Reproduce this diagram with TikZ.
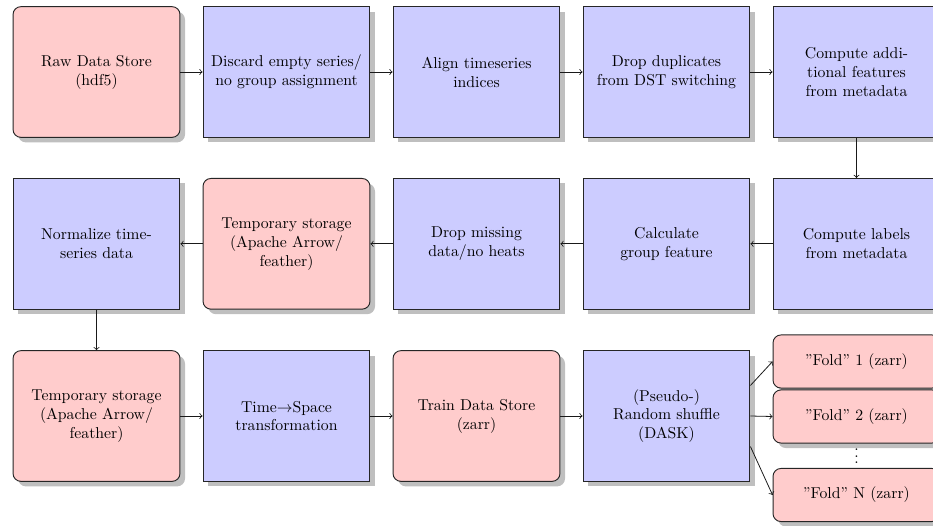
\documentclass[tikz,border=0pt]{standalone}
\usetikzlibrary{shadows}
\tikzset{
  base/.style={draw=black!85, line width=0.6pt, minimum width=106pt,
    minimum height=83pt, inner sep=0pt, align=center,
    drop shadow={shadow xshift=3.2pt, shadow yshift=-3.2pt, fill=black, opacity=0.25}},
  proc/.style={base, fill=blue!20},
  store/.style={base, fill=red!20, rounded corners=5pt},
  fold/.style={store, minimum height=33.7pt},
  conn/.style={->, line width=0.5pt, draw=black!90},
}
\begin{document}
\begin{tikzpicture}[x=0.635pt, y=-0.635pt]
\clip (0,0) rectangle (933,525);

% first row: ingestion and cleaning
\node[store] (raw)   at (96.5,72)  {Raw Data Store\\(hdf5)};
\node[proc]  (disc)  at (286.5,72) {Discard empty series/\\no group assignment};
\node[proc]  (align) at (476.5,72) {Align timeseries\\indices};
\node[proc]  (dst)   at (666.5,72) {Drop duplicates\\from DST switching};
\node[proc]  (feat)  at (856.5,72) {Compute addi-\\tional features\\from metadata};

% second row: runs right to left
\node[proc]  (lab)   at (856.5,243.8) {Compute labels\\from metadata};
\node[proc]  (grp)   at (666.5,243.8) {Calculate\\group feature};
\node[proc]  (miss)  at (476.5,243.8) {Drop missing\\data/no heats};
\node[store] (tmpa)  at (286.5,243.8) {Temporary storage\\(Apache Arrow/\\feather)};
\node[proc]  (norm)  at (96.5,243.8)  {Normalize time-\\series data};

% third row: transformation and shuffling
\node[store] (tmpb)  at (96.5,416)  {Temporary storage\\(Apache Arrow/\\feather)};
\node[proc]  (tsp)   at (286.5,416) {Time$\rightarrow$Space\\transformation};
\node[store] (train) at (476.5,416) {Train Data Store\\(zarr)};
\node[proc]  (dask)  at (666.5,416) {(Pseudo-)\\Random shuffle\\(DASK)};

% output folds
\node[fold] (f1) at (856.5,361.5) {''Fold'' 1 (zarr)};
\node[fold] (f2) at (856.5,416.5) {''Fold'' 2 (zarr)};
\node (dots) at (856.5,451.5) {$\vdots$};
\node[fold] (fn) at (856.5,495) {''Fold'' N (zarr)};

% connectors
\draw[conn] (raw) -- (disc);
\draw[conn] (disc) -- (align);
\draw[conn] (align) -- (dst);
\draw[conn] (dst) -- (feat);
\draw[conn] (feat) -- (lab);
\draw[conn] (lab) -- (grp);
\draw[conn] (grp) -- (miss);
\draw[conn] (miss) -- (tmpa);
\draw[conn] (tmpa) -- (norm);
\draw[conn] (norm) -- (tmpb);
\draw[conn] (tmpb) -- (tsp);
\draw[conn] (tsp) -- (train);
\draw[conn] (train) -- (dask);
\draw[conn] (dask.20) -- (f1.west);
\draw[conn] (dask.east) -- (f2.west);
\draw[conn] (dask.-20) -- (fn.west);
\end{tikzpicture}
\end{document}
